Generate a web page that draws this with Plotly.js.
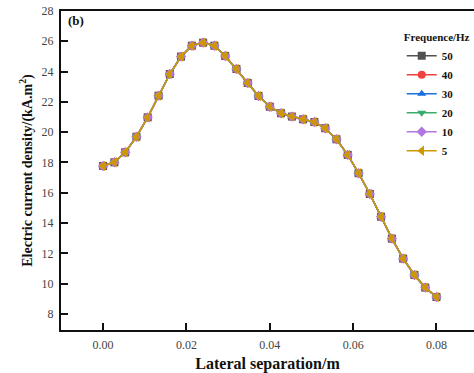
<!DOCTYPE html>
<html>
<head>
<meta charset="utf-8">
<script src="https://cdn.plot.ly/plotly-3.0.1.min.js"></script>
<style>html,body{margin:0;padding:0;background:#fff;overflow:hidden}#chart{width:474px;height:373px}</style>
</head>
<body>
<div id="chart"></div>
<script>
// Lateral separation (m): 31 sample positions
const separation = [0.0000,0.0027,0.0053,0.0080,0.0107,0.0133,0.0160,0.0187,0.0213,0.0240,
  0.0267,0.0293,0.0320,0.0347,0.0373,0.0400,0.0427,0.0453,0.0480,0.0507,
  0.0533,0.0560,0.0587,0.0613,0.0640,0.0667,0.0693,0.0720,0.0747,0.0773,0.0800];

// Electric current density (kA.m2) per frequency — curves overlap completely
const f50 = [17.77,18.01,18.67,19.70,20.98,22.41,23.84,24.99,25.71,25.91,
  25.71,25.03,24.17,23.25,22.39,21.68,21.25,21.03,20.85,20.67,
  20.26,19.53,18.50,17.29,15.92,14.42,12.97,11.65,10.57,9.74,9.12];
const f40 = [17.77,18.01,18.67,19.70,20.98,22.41,23.84,24.99,25.71,25.91,
  25.71,25.03,24.17,23.25,22.39,21.68,21.25,21.03,20.85,20.67,
  20.26,19.53,18.50,17.29,15.92,14.42,12.97,11.65,10.57,9.74,9.12];
const f30 = [17.77,18.01,18.67,19.70,20.98,22.41,23.84,24.99,25.71,25.91,
  25.71,25.03,24.17,23.25,22.39,21.68,21.25,21.03,20.85,20.67,
  20.26,19.53,18.50,17.29,15.92,14.42,12.97,11.65,10.57,9.74,9.12];
const f20 = [17.77,18.01,18.67,19.70,20.98,22.41,23.84,24.99,25.71,25.91,
  25.71,25.03,24.17,23.25,22.39,21.68,21.25,21.03,20.85,20.67,
  20.26,19.53,18.50,17.29,15.92,14.42,12.97,11.65,10.57,9.74,9.12];
const f10 = [17.77,18.01,18.67,19.70,20.98,22.41,23.84,24.99,25.71,25.91,
  25.71,25.03,24.17,23.25,22.39,21.68,21.25,21.03,20.85,20.67,
  20.26,19.53,18.50,17.29,15.92,14.42,12.97,11.65,10.57,9.74,9.12];
const f5 = [17.77,18.01,18.67,19.70,20.98,22.41,23.84,24.99,25.71,25.91,
  25.71,25.03,24.17,23.25,22.39,21.68,21.25,21.03,20.85,20.67,
  20.26,19.53,18.50,17.29,15.92,14.42,12.97,11.65,10.57,9.74,9.12];

const seriesNames = ['50','40','30','20','10','5'];
const seriesData = [f50,f40,f30,f20,f10,f5];
const seriesColors = ['#515151','#F14040','#1A6FDF','#37AD6B','#B177DE','#CC9900'];
const seriesSymbols = ['square','circle','triangle-up','triangle-down','diamond','triangle-left'];
const seriesSizes = [8,8,8,8,8,9];

const FONT = 'Liberation Serif, Times New Roman, serif';

const traces = seriesNames.map((n,i)=>({
  type:'scatter', mode:'lines+markers', name:n,
  x: separation, y: seriesData[i],
  line:{color:seriesColors[i], width:1.5},
  marker:{color:seriesColors[i], symbol:seriesSymbols[i], size:seriesSizes[i]}
}));

const layout = {
  width:474, height:373,
  margin:{l:61, r:0, t:11, b:43},
  paper_bgcolor:'#fff', plot_bgcolor:'#fff',
  font:{family:FONT, color:'#222'},
  showlegend:true,
  legend:{
    x:0.825, y:0.95, xanchor:'left', yanchor:'top',
    bgcolor:'rgba(0,0,0,0)', borderwidth:0,
    font:{family:FONT, size:11, color:'#111', weight:'bold'},
    title:{text:'<b>Frequence/Hz</b>', font:{family:FONT, size:11, color:'#111'}},
    tracegroupgap:0
  },
  xaxis:{
    range:[-0.0101, 0.0890],
    tickvals:[0,0.02,0.04,0.06,0.08],
    ticktext:['0.00','0.02','0.04','0.06','0.08'],
    ticks:'inside', ticklen:7, tickwidth:2, tickcolor:'#111',
    showline:true, linewidth:2, linecolor:'#111', mirror:true,
    showgrid:false, zeroline:false,
    tickfont:{family:FONT, size:12, color:'#444'},
    ticklabelstandoff:3,
    title:{text:'<b>Lateral separation/m</b>', font:{family:FONT, size:16, color:'#111'}, standoff:6}
  },
  yaxis:{
    range:[6.94, 28],
    tickvals:[8,10,12,14,16,18,20,22,24,26,28],
    ticks:'inside', ticklen:7, tickwidth:2, tickcolor:'#111',
    showline:true, linewidth:2, linecolor:'#111',
    showgrid:false, zeroline:false,
    tickfont:{family:FONT, size:12, color:'#444'},
    ticklabelstandoff:3,
    title:{text:'<b>Electric current density/(kA.m<sup>2</sup>)</b>', font:{family:FONT, size:14, color:'#111'}, standoff:6}
  },
  annotations:[{
    text:'<b>(b)</b>', xref:'paper', yref:'paper', x:0.012, y:1.0,
    xanchor:'left', yanchor:'top', showarrow:false,
    font:{family:FONT, size:13, color:'#111'}
  }]
};

Plotly.newPlot('chart', traces, layout, {displayModeBar:false, staticPlot:true});
</script>
</body>
</html>
